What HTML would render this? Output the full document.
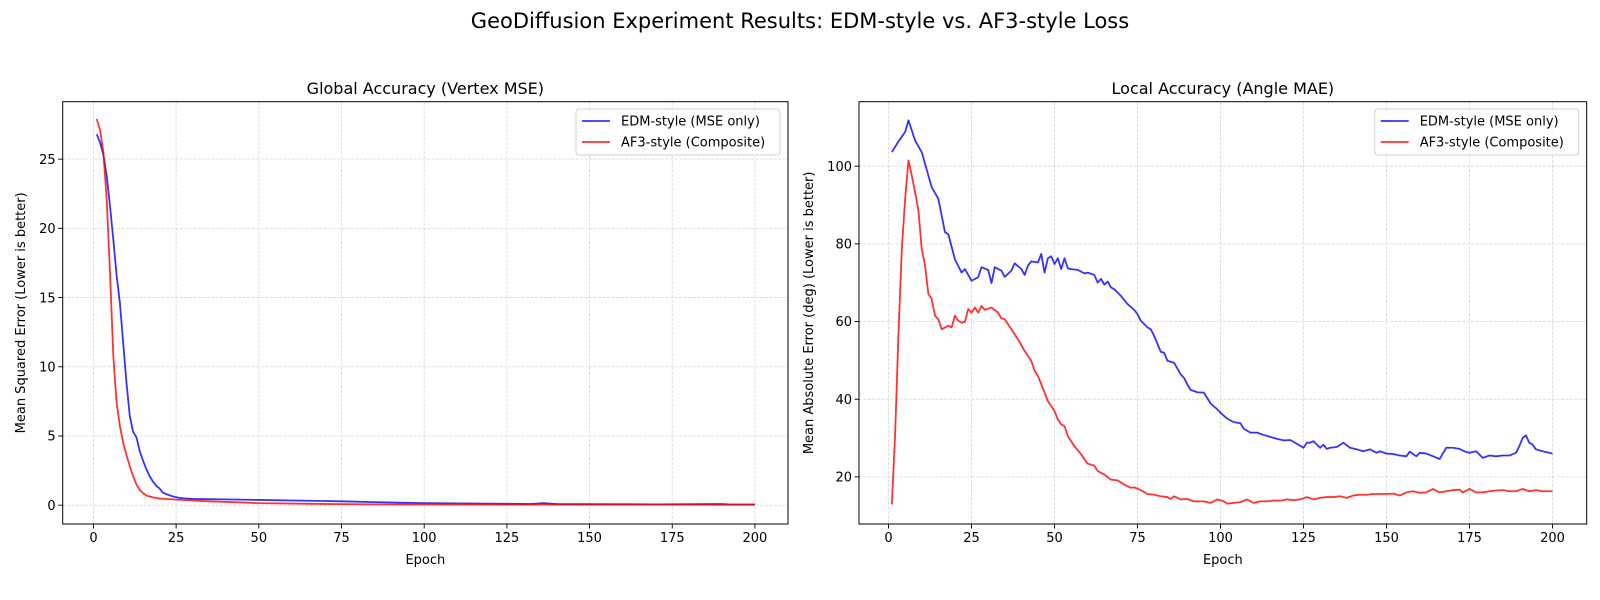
<!DOCTYPE html>
<html><head><meta charset="utf-8"><style>
html,body{margin:0;padding:0;background:#fff;}
svg{display:block;font-family:"DejaVu Sans","Liberation Sans",sans-serif;}
</style></head><body>
<svg id="fig" width="1600" height="600" viewBox="0 0 1600 600" xmlns="http://www.w3.org/2000/svg">
<rect width="1600" height="600" fill="#fff"/>
<text x="800" y="28" text-anchor="middle" font-size="21">GeoDiffusion Experiment Results: EDM-style vs. AF3-style Loss</text>
<g id="p1"></g>
<g id="p2"></g>
</svg>
<script>
const xTicks = [0,25,50,75,100,125,150,175,200];
const mseTicks = [0,5,10,15,20,25];
const maeTicks = [20,40,60,80,100];

const mseEdmEpochs = [1,2,3,4,5,6,7,8,9,10,11,12,13,14,15,16,17,18,19,20,21,22,24,26,28,30,40,50,60,70,75,85,100,115,125,132,136,140,150,170,190,192,200];
const mseEdmValues = [26.8,26.2,25.3,23.8,21.6,19.2,16.6,14.6,11.7,8.8,6.4,5.3,4.9,3.9,3.2,2.6,2.1,1.7,1.4,1.2,0.9,0.8,0.63,0.53,0.48,0.45,0.42,0.38,0.34,0.3,0.28,0.22,0.15,0.12,0.1,0.08,0.15,0.08,0.07,0.06,0.08,0.06,0.05];
const mseAfEpochs = [1,2,3,4,5,6,7,8,9,10,11,12,13,14,15,16,18,20,25,35,50,75,100,150,200];
const mseAfValues = [27.9,27.1,25.5,22.1,16.8,10.8,7.4,5.7,4.5,3.6,2.8,2.1,1.5,1.1,0.87,0.7,0.56,0.48,0.4,0.28,0.15,0.07,0.05,0.04,0.03];

const maeEdmEpochs = [1,3,5,6,8,10,12,13,15,17,18,20,22,23,25,27,28,30,31,32,34,35,37,38,40,41,42,43,45,46,47,48,49,50,51,52,53,54,55,57,59,60,62,63,64,65,66,67,68,70,72,74,75,76,78,79,80,82,83,84,86,88,89,90,91,93,95,97,99,100,102,104,106,107,109,111,113,115,117,119,121,123,125,126,127,128,129,130,131,132,133,135,137,139,141,143,145,147,148,150,152,154,156,157,159,160,162,164,166,168,170,172,174,175,177,179,181,183,185,187,189,190,191,192,193,194,195,197,199,200];
const maeEdmValues = [103.6,106.4,108.8,111.8,106.6,103.6,97.6,94.6,91.6,83,82.5,76,72.6,73.5,70.5,71.4,74,73.3,69.9,74,73.1,71.5,73.1,75,73.5,72,74.4,75.5,75.2,77.4,72.6,76.3,76.8,74.8,76.3,73.5,76.3,73.7,73.5,73.3,72.4,72.6,72,70,71,69.5,70.3,68.8,68.3,66.6,64.5,63,61.9,60.2,58.5,58,56.3,52.2,52,49.9,49.4,46.4,45.5,43.8,42.4,41.8,41.7,38.9,37.4,36.5,35,34.1,33.8,32.4,31.4,31.4,30.8,30.3,29.8,29.4,29.5,28.5,27.5,28.8,28.8,29.2,28.3,27.5,28.3,27.2,27.5,27.7,28.8,27.5,27.1,26.6,27.1,26.2,26.6,26,25.9,25.5,25.3,26.5,25.3,26.2,26,25.3,24.6,27.5,27.5,27.2,26.4,26.2,26.6,24.9,25.5,25.3,25.5,25.5,26.2,27.9,30,30.7,28.8,28.3,27.1,26.6,26.2,26];
const maeAfEpochs = [1,2,3,4,5,6,7,8,9,10,11,12,13,14,15,16,18,19,20,21,22,23,24,25,26,27,28,29,31,33,34,35,37,39,41,43,44,45,47,48,50,51,52,53,54,56,58,60,62,63,65,67,69,71,73,74,76,78,80,82,84,85,86,88,90,92,94,95,97,99,101,102,104,106,108,110,112,114,116,118,120,122,124,126,128,130,132,134,136,138,140,142,144,146,148,150,152,154,156,158,160,162,164,166,168,170,172,173,175,177,179,181,183,185,187,189,191,193,195,197,199,200];
const maeAfValues = [12.9,31.4,57.2,78.7,91.6,101.5,97.6,93.3,88.6,78.7,74.4,67.1,65.8,61.5,60.6,58,58.9,58.5,61.5,60.2,59.7,59.9,63.2,62.3,63.6,62.3,64,63,63.6,62.3,60.8,60.6,58,55.4,52.4,49.9,47.3,46,41.7,39.5,36.9,34.8,33.5,33.1,30.5,27.9,25.8,23.4,22.9,21.5,20.6,19.3,19.1,18,17.2,17.3,16.6,15.6,15.4,15,14.8,14.3,15,14.2,14.3,13.7,13.7,13.7,13.3,14.2,13.7,13.1,13.3,13.5,14.2,13.3,13.7,13.7,13.9,13.9,14.2,14,14.2,14.8,14.2,14.6,14.8,14.8,15,14.6,15.2,15.4,15.4,15.6,15.6,15.6,15.7,15.2,16,16.3,15.9,16,16.9,16,16.3,16.6,16.7,16,16.9,16,16,16.3,16.5,16.6,16.3,16.3,16.9,16.3,16.6,16.3,16.3,16.3];

const NS = 'http://www.w3.org/2000/svg';
function mk(tag, attrs, parent, txt){
  const e = document.createElementNS(NS, tag);
  for (const k in attrs) e.setAttribute(k, attrs[k]);
  if (txt !== undefined) e.textContent = txt;
  parent.appendChild(e);
  return e;
}

function panel(g, cfg){
  const L=cfg.left, R=cfg.right, T=101.7, B=524;
  const sx = v => L + (v - cfg.xmin)/(cfg.xmax-cfg.xmin)*(R-L);
  const sy = v => B - (v - cfg.ymin)/(cfg.ymax-cfg.ymin)*(B-T);
  xTicks.forEach(t=>{
    const l = mk('line',{x1:sx(t),x2:sx(t),y1:T,y2:B,stroke:'#b0b0b0','stroke-opacity':0.5,'stroke-width':0.8,'stroke-dasharray':'3,1.5'},g);
    
    
  });
  cfg.yTicks.forEach(t=>{
    const l = mk('line',{x1:L,x2:R,y1:sy(t),y2:sy(t),stroke:'#b0b0b0','stroke-opacity':0.5,'stroke-width':0.8,'stroke-dasharray':'3,1.5'},g);
    
    
  });
  cfg.series.forEach(s=>{
    let d='';
    s.x.forEach((e,i)=>{ d += (i?'L':'M')+sx(e).toFixed(2)+','+sy(s.y[i]).toFixed(2); });
    const p = mk('path',{d:d,fill:'none',stroke:s.color,'stroke-opacity':0.8,'stroke-width':1.8,'stroke-linejoin':'round'},g);
    
    
  });
  const f = mk('rect',{x:L,y:T,width:R-L,height:B-T,fill:'none',stroke:'#000','stroke-width':1},g);
  
  
  xTicks.forEach(t=>{
    mk('line',{x1:sx(t),x2:sx(t),y1:B,y2:B+4.5,stroke:'#000','stroke-width':0.9},g);
    const tx = mk('text',{x:sx(t),y:B+18,'text-anchor':'middle','font-size':13},g,String(t));
    
    
  });
  cfg.yTicks.forEach(t=>{
    mk('line',{x1:L-4.5,x2:L,y1:sy(t),y2:sy(t),stroke:'#000','stroke-width':0.9},g);
    const tx = mk('text',{x:L-7,y:sy(t)+4.7,'text-anchor':'end','font-size':13},g,String(t));
    
    
  });
  const ti = mk('text',{x:(L+R)/2,y:94,'text-anchor':'middle','font-size':16},g,cfg.title);
  
  
  const xl = mk('text',{x:(L+R)/2,y:564,'text-anchor':'middle','font-size':13},g,'Epoch');
  
  
  const yl = mk('text',{x:0,y:0,'text-anchor':'middle','font-size':13,transform:'translate('+(cfg.ylabX)+','+((T+B)/2)+') rotate(-90)'},g,cfg.ylabel);
  
  
  const lg = mk('g',{},g);
  
  
  const lx = R-212, ly = 109;
  mk('rect',{x:lx,y:ly,width:204,height:46,rx:3,fill:'#fff','fill-opacity':0.8,stroke:'#d0d0d0','stroke-width':1},lg);
  cfg.series.forEach((s,i)=>{
    const yy = ly+12+i*21;
    const e = mk('g',{},lg);
    
    
    mk('line',{x1:lx+6,x2:lx+34,y1:yy,y2:yy,stroke:s.color,'stroke-opacity':0.8,'stroke-width':1.8},e);
    mk('text',{x:lx+45,y:yy+4.7,'font-size':13},e,s.label);
  });
}

panel(document.getElementById('p1'),{
  left:62.7,right:788,xmin:-9.3,xmax:210,ymin:-1.36,ymax:29.15,yTicks:mseTicks,
  title:'Global Accuracy (Vertex MSE)',ylabel:'Mean Squared Error (Lower is better)',ylabX:25,
  series:[
    {name:'edm-mse-line',label:'EDM-style (MSE only)',color:'#0000ff',x:mseEdmEpochs,y:mseEdmValues},
    {name:'af3-mse-line',label:'AF3-style (Composite)',color:'#ff0000',x:mseAfEpochs,y:mseAfValues}
  ]
});
panel(document.getElementById('p2'),{
  left:859,right:1586.7,xmin:-8.9,xmax:210.3,ymin:7.87,ymax:116.6,yTicks:maeTicks,
  title:'Local Accuracy (Angle MAE)',ylabel:'Mean Absolute Error (deg) (Lower is better)',ylabX:813,
  series:[
    {name:'edm-mae-line',label:'EDM-style (MSE only)',color:'#0000ff',x:maeEdmEpochs,y:maeEdmValues},
    {name:'af3-mae-line',label:'AF3-style (Composite)',color:'#ff0000',x:maeAfEpochs,y:maeAfValues}
  ]
});
</script>
</body></html>
